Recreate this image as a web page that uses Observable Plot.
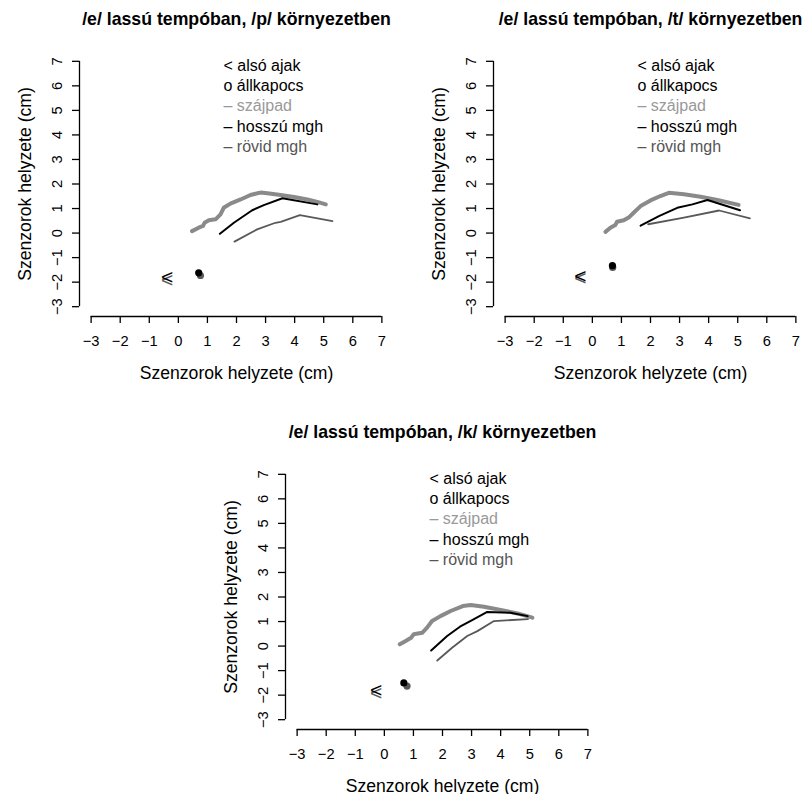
<!DOCTYPE html>
<html><head><meta charset="utf-8">
<script src="https://cdn.jsdelivr.net/npm/d3@7"></script>
<script src="https://cdn.jsdelivr.net/npm/@observablehq/plot@0.6"></script>
<style>
html,body{margin:0;padding:0;background:#fff;}
#wrap{position:relative;width:804px;height:794px;overflow:hidden;font-family:"Liberation Sans",Arial,sans-serif;}
.panel{position:absolute;width:403px;height:381px;}
.panel svg{max-width:none !important;}
</style></head><body><div id="wrap"></div>
<script>
const xTicks = [-3,-2,-1,0,1,2,3,4,5,6,7];
const yTicks = [-3,-2,-1,0,1,2,3,4,5,6,7];
const axisTitle = "Szenzorok helyzete (cm)";
const titles = ["/e/ lassú tempóban, /p/ környezetben", "/e/ lassú tempóban, /t/ környezetben", "/e/ lassú tempóban, /k/ környezetben"];
const legendLabels = ["< alsó ajak", "o állkapocs", "– szájpad", "– hosszú mgh", "– rövid mgh"];
const legendColors = ["#000000", "#000000", "#999999", "#000000", "#555555"];

// /p/
const pPalateX = [0.47,0.70,0.85,0.90,1.05,1.28,1.45,1.56,1.79,2.14,2.48,2.71,2.83,3.06,3.52,3.98,4.44,4.78,5.07];
const pPalateY = [0.08,0.22,0.29,0.42,0.52,0.56,0.76,1.03,1.20,1.37,1.55,1.62,1.65,1.62,1.55,1.47,1.37,1.27,1.17];
const pLongX = [1.43,1.91,2.54,2.94,3.58,4.78];
const pLongY = [-0.03,0.42,0.93,1.14,1.42,1.17];
const pShortX = [1.93,2.71,3.34,3.52,4.18,5.30];
const pShortY = [-0.35,0.15,0.42,0.46,0.73,0.49];
const pLipX = [-0.39,-0.39], pLipY = [-1.80,-1.93];
const pJawX = [0.70,0.76], pJawY = [-1.62,-1.73];
// /t/
const tPalateX = [0.45,0.62,0.79,0.85,1.08,1.25,1.42,1.66,2.00,2.34,2.63,3.15,3.72,4.30,5.03];
const tPalateY = [0.05,0.22,0.33,0.46,0.52,0.63,0.83,1.10,1.33,1.51,1.64,1.58,1.48,1.35,1.15];
const tLongX = [1.66,2.29,2.92,3.44,3.96,5.08];
const tLongY = [0.30,0.69,1.03,1.17,1.35,0.93];
const tShortX = [1.92,3.15,4.36,5.42];
const tShortY = [0.36,0.63,0.92,0.60];
const tLipX = [-0.41,-0.41], tLipY = [-1.78,-1.84];
const tJawX = [0.69,0.70], tJawY = [-1.33,-1.40];
// /k/
const kPalateX = [0.53,0.72,0.92,1.01,1.30,1.47,1.64,1.93,2.28,2.70,2.97,3.43,4.00,4.58,5.09];
const kPalateY = [0.07,0.20,0.34,0.48,0.54,0.75,1.02,1.22,1.43,1.63,1.67,1.60,1.47,1.33,1.16];
const kLongX = [1.61,2.16,2.60,3.02,3.54,4.34,4.93];
const kLongY = [-0.18,0.41,0.79,1.06,1.39,1.36,1.22];
const kShortX = [1.82,2.33,2.85,3.20,3.77,4.94];
const kShortY = [-0.59,-0.07,0.41,0.61,1.02,1.10];
const kLipX = [-0.28,-0.28], kLipY = [-1.82,-1.92];
const kJawX = [0.67,0.78], kJawY = [-1.50,-1.63];

const palateColor = "#8a8a8a", longColor = "#000000", shortColor = "#595959";
const font = "Liberation Sans, Arial, sans-serif";
const minus = d => String(d).replace("-", "\u2212");
const zip = (xs, ys) => xs.map((x, i) => ({x, y: ys[i]}));

function panel(title, palX, palY, lX, lY, sX, sY, lipX, lipY, jawX, jawY) {
  const ext = (xTicks[xTicks.length-1] - xTicks[0]) * 0.04;
  const xDom = [xTicks[0] - ext, xTicks[xTicks.length-1] + ext];
  const yDom = [yTicks[0] - ext, yTicks[yTicks.length-1] + ext];
  const lip = zip(lipX, lipY), jaw = zip(jawX, jawY);
  const markColors = [longColor, shortColor];
  const marks = [
    Plot.axisX({ticks: xTicks, tickSize: 7, tickFormat: () => "", label: null, strokeWidth: 1.3}),
    Plot.axisY({ticks: yTicks, tickSize: 7, tickFormat: () => "", label: null, strokeWidth: 1.3}),
    Plot.ruleY([yDom[0]], {x1: xTicks[0], x2: xTicks[xTicks.length-1], strokeWidth: 1.3}),
    Plot.ruleX([xDom[0]], {y1: yTicks[0], y2: yTicks[yTicks.length-1], strokeWidth: 1.3}),
    Plot.text(xTicks, {x: d => d, text: minus, frameAnchor: "bottom", dy: 25, lineAnchor: "middle", textAnchor: "middle", fontSize: 14.7}),
    Plot.text(yTicks, {y: d => d, text: minus, frameAnchor: "left", dx: -22, rotate: -90, lineAnchor: "middle", textAnchor: "middle", fontSize: 14.7}),
    Plot.text([axisTitle], {text: d => d, frameAnchor: "bottom", dy: 57, lineAnchor: "middle", textAnchor: "middle", fontSize: 17.6}),
    Plot.text([axisTitle], {text: d => d, frameAnchor: "left", dx: -54, rotate: -90, lineAnchor: "middle", textAnchor: "middle", fontSize: 17.6}),
    Plot.text([title], {text: d => d, frameAnchor: "top", dy: -32, lineAnchor: "middle", textAnchor: "middle", fontSize: 17.7, fontWeight: "bold"}),
    ...legendLabels.map((lab, i) => Plot.text([lab], {text: d => d, frameAnchor: "top-left", dx: 144, dy: 14 + 20.3 * i, lineAnchor: "middle", textAnchor: "start", fontSize: 16, fill: legendColors[i]})),
    Plot.line(zip(palX, palY), {x: "x", y: "y", stroke: palateColor, strokeWidth: 4}),
    Plot.line(zip(lX, lY), {x: "x", y: "y", stroke: longColor, strokeWidth: 2}),
    Plot.line(zip(sX, sY), {x: "x", y: "y", stroke: shortColor, strokeWidth: 1.8}),
    Plot.text([lip[1]], {x: "x", y: "y", text: () => "<", fill: markColors[1], fontSize: 21, lineAnchor: "middle"}),
    Plot.text([lip[0]], {x: "x", y: "y", text: () => "<", fill: markColors[0], fontSize: 21, lineAnchor: "middle"}),
    Plot.dot([jaw[1]], {x: "x", y: "y", r: 3.6, fill: markColors[1], stroke: null}),
    Plot.dot([jaw[0]], {x: "x", y: "y", r: 3.6, fill: markColors[0], stroke: null})
  ];
  return Plot.plot({
    width: 403, height: 381,
    marginLeft: 79, marginRight: 10, marginTop: 51, marginBottom: 65,
    x: {domain: xDom}, y: {domain: yDom},
    style: {fontFamily: font, background: "transparent", overflow: "visible", color: "#000", maxWidth: "none"},
    marks
  });
}

const wrap = document.getElementById("wrap");
const specs = [
  [0, 0, titles[0], pPalateX, pPalateY, pLongX, pLongY, pShortX, pShortY, pLipX, pLipY, pJawX, pJawY],
  [414, 0, titles[1], tPalateX, tPalateY, tLongX, tLongY, tShortX, tShortY, tLipX, tLipY, tJawX, tJawY],
  [206, 413, titles[2], kPalateX, kPalateY, kLongX, kLongY, kShortX, kShortY, kLipX, kLipY, kJawX, kJawY]
];
for (const [left, top, ...args] of specs) {
  const div = document.createElement("div");
  div.className = "panel";
  div.style.left = left + "px";
  div.style.top = top + "px";
  div.appendChild(panel(...args));
  wrap.appendChild(div);
}
</script></body></html>
